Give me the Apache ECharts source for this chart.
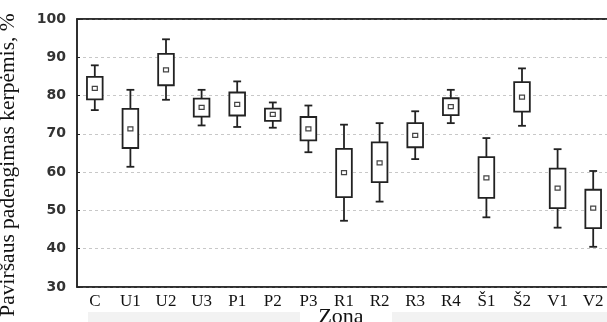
<!DOCTYPE html>
<html>
<head>
<meta charset="utf-8">
<script src="https://cdn.jsdelivr.net/npm/echarts@6/dist/echarts.min.js"></script>
<style>
  html, body { margin: 0; padding: 0; background: #fff; }
  #chart { width: 607px; height: 322px; }
</style>
</head>
<body>
<div id="chart"></div>
<script>
// zones and box statistics
const categories = ["C", "U1", "U2", "U3", "P1", "P2", "P3", "R1", "R2", "R3", "R4", "Š1", "Š2", "V1", "V2"];
const whiskerLow  = [76.2, 61.4, 78.9, 72.2, 71.8, 71.6, 65.2, 47.3, 52.3, 63.4, 72.8, 48.2, 72.1, 45.5, 40.5];
const boxLow      = [79.0, 66.3, 82.7, 74.5, 74.8, 73.4, 68.3, 53.5, 57.4, 66.5, 74.9, 53.3, 75.8, 50.6, 45.4];
const centre      = [81.9, 71.3, 86.7, 76.9, 77.7, 75.1, 71.3, 59.9, 62.4, 69.6, 77.1, 58.5, 79.6, 55.8, 50.6];
const boxHigh     = [84.9, 76.5, 90.9, 79.2, 80.8, 76.6, 74.4, 66.1, 67.8, 72.8, 79.3, 63.9, 83.5, 60.9, 55.4];
const whiskerHigh = [87.9, 81.5, 94.7, 81.5, 83.7, 78.2, 77.4, 72.4, 72.8, 75.9, 81.5, 68.9, 87.1, 66.0, 60.3];
const yTicks = { min: 30, max: 100, step: 10 };

const rows = categories.map((c, i) => [i, whiskerLow[i], boxLow[i], centre[i], boxHigh[i], whiskerHigh[i]]);

const ink = "#222";

function renderBox(params, api) {
  const i = api.value(0);
  const band = api.size([1, 0])[0];
  const half = band * 0.22;
  const cap = band * 0.11;
  const pLow = api.coord([i, api.value(1)]);
  const pQ1 = api.coord([i, api.value(2)]);
  const pMid = api.coord([i, api.value(3)]);
  const pQ3 = api.coord([i, api.value(4)]);
  const pHigh = api.coord([i, api.value(5)]);
  const x = pMid[0];
  const line = { stroke: ink, lineWidth: 1.8, fill: null };
  return {
    type: "group",
    children: [
      { type: "line", shape: { x1: x, y1: pHigh[1], x2: x, y2: pQ3[1] }, style: line },
      { type: "line", shape: { x1: x, y1: pQ1[1], x2: x, y2: pLow[1] }, style: line },
      { type: "line", shape: { x1: x - cap, y1: pHigh[1], x2: x + cap, y2: pHigh[1] }, style: line },
      { type: "line", shape: { x1: x - cap, y1: pLow[1], x2: x + cap, y2: pLow[1] }, style: line },
      { type: "rect", shape: { x: x - half, y: pQ3[1], width: half * 2, height: pQ1[1] - pQ3[1] },
        style: { stroke: ink, lineWidth: 1.8, fill: "#fff" } },
      { type: "rect", shape: { x: x - 2.5, y: pMid[1] - 2, width: 5, height: 4 },
        style: { stroke: "#444", lineWidth: 1.2, fill: "#fff" } }
    ]
  };
}

const chart = echarts.init(document.getElementById("chart"));
chart.setOption({
  animation: false,
  backgroundColor: "#fff",
  grid: {
    left: 77, right: -4, top: 19, bottom: 35,
    outerBoundsMode: "none", containLabel: false,
    show: true, borderColor: ink, borderWidth: 1.5
  },
  graphic: [
    { type: "rect", shape: { x: 88, y: 312, width: 212, height: 10 }, style: { fill: "#f2f2f2" }, z: -1 },
    { type: "rect", shape: { x: 392, y: 312, width: 215, height: 10 }, style: { fill: "#f2f2f2" }, z: -1 },
    {
      type: "text", x: 8, y: 165, rotation: Math.PI / 2,
      style: {
        text: "Paviršaus padengimas kerpėmis, %",
        fontFamily: "Liberation Serif", fontSize: 21.5, fill: "#111",
        align: "center", verticalAlign: "middle"
      }
    },
    {
      type: "text", x: 341, y: 306,
      style: {
        text: "Zona",
        fontFamily: "Liberation Serif", fontSize: 22, fill: "#111",
        align: "center", verticalAlign: "top"
      }
    }
  ],
  xAxis: [
    {
      type: "category",
      data: categories,
      axisLine: { lineStyle: { color: ink, width: 1.5 } },
      axisTick: { inside: true, length: 3, alignWithLabel: true, lineStyle: { color: ink, width: 2 } },
      axisLabel: { fontFamily: "Liberation Serif", fontSize: 17, color: "#111", margin: 6 }
    },
    {
      type: "category",
      data: categories,
      position: "top",
      axisLine: { lineStyle: { color: ink, width: 1.5 } },
      axisTick: { inside: true, length: 3, alignWithLabel: true, lineStyle: { color: ink, width: 2 } },
      axisLabel: { show: false }
    }
  ],
  yAxis: {
    type: "value",
    min: yTicks.min,
    max: yTicks.max,
    interval: yTicks.step,
    axisLine: { show: true, lineStyle: { color: ink, width: 1.5 } },
    axisTick: { show: true, inside: true, length: 3, lineStyle: { color: ink } },
    axisLabel: { fontFamily: "DejaVu Sans", fontWeight: "bold", fontSize: 14, color: "#333", margin: 11 },
    splitLine: { lineStyle: { color: "#c8c8c8", type: [3, 3], width: 1 } }
  },
  series: [{
    type: "custom",
    renderItem: renderBox,
    encode: { x: 0, y: [1, 2, 3, 4, 5] },
    data: rows
  }]
});
</script>
</body>
</html>
